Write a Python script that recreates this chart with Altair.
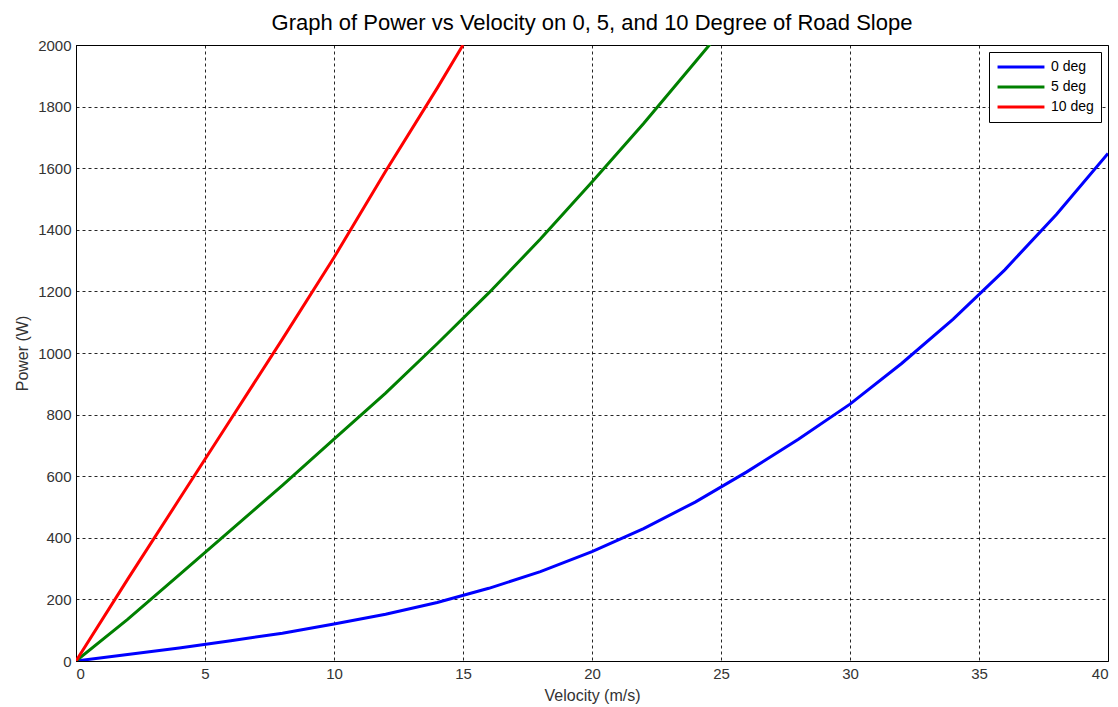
import altair as alt
import pandas as pd

# Velocity (m/s) and power (W) readings for each road slope
v0 = [0, 2, 4, 6, 8, 10, 12, 14, 16, 18, 20, 22, 24, 26, 28, 30, 32, 34, 36, 38, 40]
p0 = [0, 21, 42, 66, 90, 120, 152, 190, 236, 290, 355, 430, 516, 614, 720, 834, 966, 1110, 1270, 1450, 1648]

v5 = [0, 2, 4, 6, 8, 10, 12, 14, 16, 18, 20, 22, 24, 24.6]
p5 = [0, 135, 280, 425, 570, 720, 870, 1030, 1195, 1370, 1555, 1745, 1945, 2005]

v10 = [0, 2, 4, 6, 8, 10, 12, 14, 15]
p10 = [0, 265, 525, 785, 1045, 1310, 1590, 1860, 2000]

series = ["0 deg", "5 deg", "10 deg"]
colors = ["#0000FF", "#008000", "#FF0000"]

rows = []
for name, vs, ps in zip(series, [v0, v5, v10], [p0, p5, p10]):
    for i, (v, p) in enumerate(zip(vs, ps)):
        rows.append({"Velocity": v, "Power": p, "Slope": name, "order": i})
df = pd.DataFrame(rows)

FONT = "Liberation Sans"

chart = alt.Chart(df).mark_line(strokeWidth=3, clip=True).encode(
    x=alt.X("Velocity:Q",
            scale=alt.Scale(domain=[0, 40], nice=False, zero=False),
            axis=alt.Axis(title="Velocity (m/s)", values=list(range(0, 41, 5)),
                          format="d", titleY=26, titleBaseline="top")),
    y=alt.Y("Power:Q",
            scale=alt.Scale(domain=[0, 2000], nice=False),
            axis=alt.Axis(title="Power (W)", values=list(range(0, 2001, 200)),
                          format="d", titleX=-46)),
    color=alt.Color("Slope:N",
                    scale=alt.Scale(domain=series, range=colors),
                    legend=alt.Legend(title=None, orient="top-right", offset=7)),
    order="order:Q",
).properties(
    width=1032,
    height=616,
    title=alt.TitleParams("Graph of Power vs Velocity on 0, 5, and 10 Degree of Road Slope",
                          fontSize=22, font=FONT, fontWeight="normal", color="black",
                          offset=3),
    autosize=alt.AutoSizeParams(type="none"),
    padding={"left": 68, "top": 37, "right": 2, "bottom": 50},
).configure_view(
    stroke="black", strokeWidth=1
).configure_axis(
    grid=True, gridColor="black", gridDash=[3, 3], gridOpacity=0.85, gridWidth=1,
    domainColor="black", domainWidth=1, ticks=False,
    labelFont=FONT, labelFontSize=15, labelColor="#333333", labelPadding=5,
    titleFont=FONT, titleFontSize=16, titleFontWeight="normal", titleColor="#333333",
).configure_legend(
    strokeColor="black", fillColor="white", padding=7,
    symbolType="stroke", symbolSize=2200, symbolStrokeWidth=3,
    labelFont=FONT, labelFontSize=14, labelColor="black", rowPadding=4,
    labelOffset=5, clipHeight=16,
)

chart.save("out.html", embed_options={"renderer": "svg", "actions": False})
